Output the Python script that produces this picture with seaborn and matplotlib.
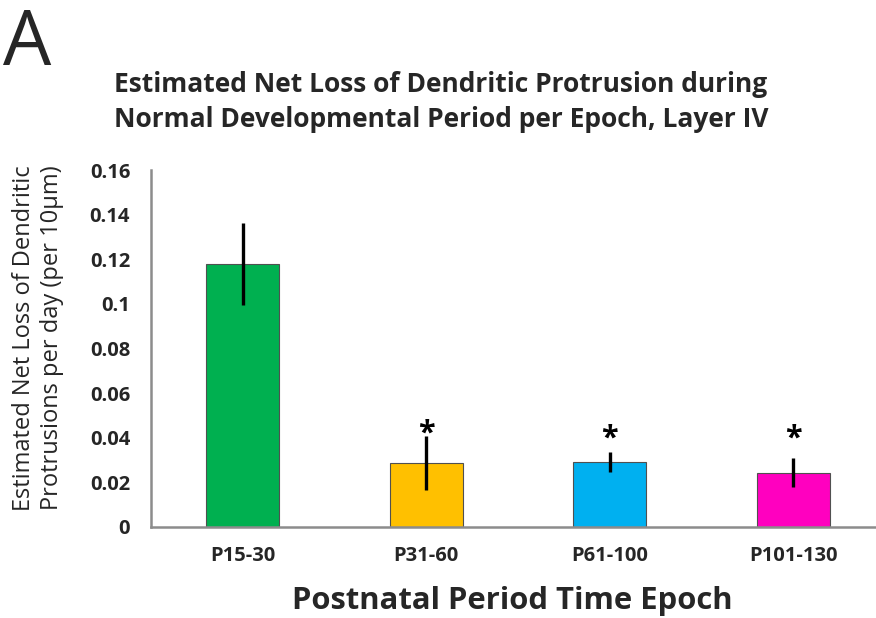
import matplotlib
matplotlib.use("Agg")
import matplotlib.pyplot as plt
import seaborn as sns
import pandas as pd

# Net loss of dendritic protrusions per epoch (Layer IV)
epochs = ["P15-30", "P31-60", "P61-100", "P101-130"]
net_loss = [0.1178, 0.0288, 0.0293, 0.0243]
sem = [0.0185, 0.0120, 0.0045, 0.0065]
significant = [False, True, True, True]
bar_colors = ["#00B050", "#FFC000", "#00B0F0", "#FF00BF"]
y_ticks = [0, 0.02, 0.04, 0.06, 0.08, 0.1, 0.12, 0.14, 0.16]
y_tick_labels = ["0", "0.02", "0.04", "0.06", "0.08", "0.1", "0.12", "0.14", "0.16"]

sns.set_style("white")
plt.rcParams["font.family"] = ["Open Sans", "DejaVu Sans"]

df = pd.DataFrame({"epoch": epochs, "loss": net_loss})

W, H = 876, 618
fig = plt.figure(figsize=(W / 100, H / 100), dpi=100)
ax = fig.add_axes([151 / W, 1 - 527 / H, (W - 151) / W, (527 - 170) / H])

sns.barplot(data=df, x="epoch", y="loss", hue="epoch", palette=bar_colors,
            saturation=1, width=0.4, edgecolor="#505050", linewidth=0.8,
            legend=False, errorbar=None, ax=ax)
ax.errorbar(range(len(epochs)), net_loss, yerr=sem, fmt="none",
            ecolor="black", elinewidth=2.4, capsize=0)

# significance markers sit just above the error bars
star_heights = [None, 0.0455, 0.0430, 0.0430]
for i, (s, h) in enumerate(zip(significant, star_heights)):
    if s:
        ax.annotate("*", xy=(i, h), xytext=(0, -11.5), textcoords="offset points",
                    ha="center", va="baseline", fontsize=22,
                    fontweight="bold", color="black")

ax.set_xlim(-0.5, -0.5 + (W - 151) / 183.5)
ax.set_ylim(0, 0.16)
ax.set_yticks(y_ticks)
ax.set_yticklabels(y_tick_labels, fontsize=14.5, fontweight="bold")
for lbl in ax.get_xticklabels():
    lbl.set_fontsize(14.5)
    lbl.set_fontweight("bold")
ax.tick_params(axis="both", length=0)
ax.tick_params(axis="y", pad=15)
ax.tick_params(axis="x", pad=14)

for side in ["top", "right"]:
    ax.spines[side].set_visible(False)
for side in ["left", "bottom"]:
    ax.spines[side].set_color("#8c8c8c")
    ax.spines[side].set_linewidth(1.8)

ax.set_xlabel("")
ax.set_ylabel("")

fig.text(38 / W, 1 - 338 / H,
         "Estimated Net Loss of Dendritic\nProtrusions per day (per 10μm)",
         rotation=90, ha="center", va="center", fontsize=17,
         linespacing=1.25)

fig.text(441 / W, 1 - 102 / H,
         "Estimated Net Loss of Dendritic Protrusion during\n"
         "Normal Developmental Period per Epoch, Layer IV",
         ha="center", va="center", fontsize=19, fontweight="bold",
         linespacing=1.42)

fig.text(512 / W, 1 - 601 / H, "Postnatal Period Time Epoch",
         ha="center", va="center", fontsize=22.3, fontweight="bold")

fig.text(3 / W, 1 - 65 / H, "A", ha="left", va="baseline", fontsize=55)

fig.savefig("out.png", dpi=100)
